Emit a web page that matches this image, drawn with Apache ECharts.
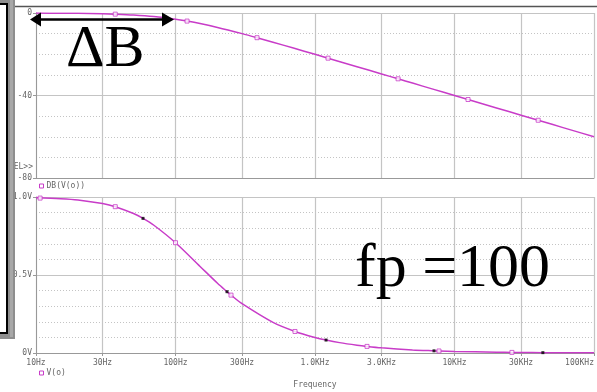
<!DOCTYPE html>
<html><head><meta charset="utf-8">
<script src="https://cdn.jsdelivr.net/npm/echarts@6/dist/echarts.min.js"></script>
<style>html,body{margin:0;padding:0;background:#fff}#c{width:597px;height:392px}</style>
</head><body><div id="c"></div>
<script>
const freqTicks = [10, 30, 100, 300, 1000, 3000, 10000, 30000, 100000];
const freqTickLabels = ['10Hz', '30Hz', '100Hz', '300Hz', '1.0KHz', '3.0KHz', '10KHz', '30KHz', '100KHz'];

// DB(V(o)) trace
const dbFreq   = [10, 15, 20, 30, 37, 50, 70, 100, 121, 150, 200, 300, 384, 500, 700, 1000, 1240, 2000, 3000, 3940, 5000, 7000, 10000, 12500, 20000, 30000, 39800, 50000, 70000, 100000];
const dbValues = [-0.04, -0.10, -0.17, -0.37, -0.56, -0.97, -1.73, -3.01, -3.92, -5.12, -6.99, -10.0, -11.97, -14.15, -16.99, -20.04, -21.9, -26.03, -29.55, -31.91, -33.98, -36.9, -40.0, -41.94, -46.02, -49.54, -52.0, -53.98, -56.9, -60.0];
const dbMarkFreq   = [37, 121, 384, 1240, 3940, 12500, 39800];
const dbMarkValues = [-0.56, -3.92, -11.97, -21.9, -31.91, -41.94, -52.0];

// V(o) trace
const vFreq   = [10, 15, 20, 30, 37, 50, 58.5, 70, 100, 150, 200, 234, 250, 300, 500, 719, 1000, 1200, 1500, 2000, 2360, 3000, 5000, 7130, 7740, 10000, 20000, 25800, 30000, 43000, 50000, 100000];
const vValues = [0.995, 0.989, 0.981, 0.958, 0.938, 0.894, 0.863, 0.819, 0.707, 0.555, 0.447, 0.393, 0.371, 0.316, 0.196, 0.138, 0.0995, 0.083, 0.0665, 0.050, 0.0423, 0.0333, 0.020, 0.014, 0.0129, 0.010, 0.005, 0.0039, 0.0033, 0.0023, 0.002, 0.001];
const vMarkFreq   = [10.7, 37, 100, 250, 719, 2360, 7740, 25800];
const vMarkValues = [0.993, 0.938, 0.707, 0.371, 0.138, 0.0423, 0.0129, 0.0039];
const vDotFreq   = [58.5, 234, 1200, 7130, 43000];
const vDotValues = [0.863, 0.393, 0.083, 0.014, 0.0023];

const C = '#c83cc8';
const GRID = '#c4c4c4';
const AX = '#999';
const TXT = '#666';
const MONO = 'DejaVu Sans Mono';

const zip = (a, b) => a.map((v, i) => [v, b[i]]);
const fmtFreq = v => {
  const i = freqTicks.findIndex(t => Math.abs(t - v) / t < 1e-6);
  return i >= 0 ? freqTickLabels[i] : '';
};

function xAxis(idx, showLabels) {
  return {
    gridIndex: idx, type: 'log', logBase: 10, min: 10, max: 100000,
    name: showLabels ? 'Frequency' : '', nameLocation: 'middle', nameGap: 28,
    nameTextStyle: { fontSize: 8, color: TXT, fontFamily: MONO },
    axisLine: { show: true, onZero: false, lineStyle: { color: AX } },
    axisTick: { show: showLabels, length: 3, customValues: freqTicks, lineStyle: { color: AX } },
    axisLabel: { show: showLabels, customValues: freqTicks, formatter: fmtFreq, fontSize: 8, color: TXT, fontFamily: MONO, margin: 6, alignMaxLabel: 'right' },
    splitLine: { show: true, lineStyle: { color: GRID, width: 1.2 } },
    minorTick: { show: false }, minorSplitLine: { show: false }
  };
}
function yAxis(idx, min, max, interval, fmt) {
  return {
    gridIndex: idx, type: 'value', min, max, interval,
    axisLine: { show: true, lineStyle: { color: AX } },
    axisTick: { show: true, length: 3, lineStyle: { color: AX } },
    axisLabel: { fontSize: 8, color: TXT, fontFamily: MONO, margin: 4, formatter: fmt },
    splitLine: { show: true, lineStyle: { color: GRID, width: 1.2 } },
    minorTick: { show: false, splitNumber: idx === 0 ? 4 : 5 },
    minorSplitLine: { show: true, lineStyle: { color: GRID, width: 1, type: [1, 2] } }
  };
}

const chart = echarts.init(document.getElementById('c'), null, { renderer: 'canvas' });
chart.setOption({
  animation: false,
  backgroundColor: '#fff',
  grid: [
    { left: 36, top: 13, width: 558, height: 165 },
    { left: 36, top: 197, width: 558, height: 156 }
  ],
  xAxis: [xAxis(0, false), xAxis(1, true)],
  yAxis: [
    yAxis(0, -80, 0, 40, v => String(v)),
    yAxis(1, 0, 1, 0.5, v => v === 0 ? '0V' : v.toFixed(1) + 'V')
  ],
  legend: [
    { left: 39, top: 182, padding: 0, itemWidth: 4, itemHeight: 4, selectedMode: false,
      textStyle: { fontSize: 8, color: TXT, fontFamily: MONO, padding: [0, 0, 0, -2] },
      data: [{ name: 'DB(V(o))', icon: 'rect', itemStyle: { color: '#fff', borderColor: C, borderWidth: 1 } }] },
    { left: 39, top: 369, padding: 0, itemWidth: 4, itemHeight: 4, selectedMode: false,
      textStyle: { fontSize: 8, color: TXT, fontFamily: MONO, padding: [0, 0, 0, -2] },
      data: [{ name: 'V(o)', icon: 'rect', itemStyle: { color: '#fff', borderColor: C, borderWidth: 1 } }] }
  ],
  series: [
    { name: 'DB(V(o))', type: 'line', xAxisIndex: 0, yAxisIndex: 0, data: zip(dbFreq, dbValues),
      smooth: 0.3, showSymbol: false, lineStyle: { color: C, width: 1.5 }, itemStyle: { color: C } },
    { name: 'DB(V(o)) pts', type: 'scatter', xAxisIndex: 0, yAxisIndex: 0, data: zip(dbMarkFreq, dbMarkValues),
      symbol: 'rect', symbolSize: 4, itemStyle: { color: '#fff', borderColor: C, borderWidth: 1 }, z: 5 },
    { name: 'V(o)', type: 'line', xAxisIndex: 1, yAxisIndex: 1, data: zip(vFreq, vValues),
      smooth: 0.3, showSymbol: false, lineStyle: { color: C, width: 1.5 }, itemStyle: { color: C } },
    { name: 'V(o) pts', type: 'scatter', xAxisIndex: 1, yAxisIndex: 1, data: zip(vMarkFreq, vMarkValues),
      symbol: 'rect', symbolSize: 4, itemStyle: { color: '#fff', borderColor: C, borderWidth: 1 }, z: 5 },
    { name: 'cursor', type: 'scatter', xAxisIndex: 1, yAxisIndex: 1, data: zip(vDotFreq, vDotValues),
      symbol: 'rect', symbolSize: 3, itemStyle: { color: '#000' }, z: 6 }
  ],
  graphic: [
    { type: 'text', z: 10, style: { x: 33, y: 167, text: 'SEL>>', textAlign: 'right', textVerticalAlign: 'middle', fontSize: 8, fontFamily: MONO, fill: TXT } },
    // top border
    { type: 'line', z: 50, shape: { x1: 10, y1: 6.5, x2: 597, y2: 6.5 }, style: { stroke: '#555', lineWidth: 1.5 } },
    // left window frame
    { type: 'rect', z: 100, shape: { x: 0, y: 0, width: 15, height: 339 }, style: { fill: '#8e8e8e' } },
    { type: 'rect', z: 101, shape: { x: 10, y: 0, width: 3, height: 337 }, style: { fill: '#a8a8a8' } },
    { type: 'rect', z: 102, shape: { x: -3, y: 4, width: 10, height: 329 }, style: { fill: '#fff', stroke: '#000', lineWidth: 2 } },
    // ΔB arrow
    { type: 'line', z: 60, shape: { x1: 38, y1: 19.5, x2: 165, y2: 19.5 }, style: { stroke: '#000', lineWidth: 2.5 } },
    { type: 'polygon', z: 60, shape: { points: [[30, 19.5], [41, 12.5], [41, 26.5]] }, style: { fill: '#000' } },
    { type: 'polygon', z: 60, shape: { points: [[174, 19.5], [162, 12.5], [162, 26.5]] }, style: { fill: '#000' } },
    { type: 'text', z: 60, style: { x: 66, y: 80, text: 'ΔB', textVerticalAlign: 'bottom', fontSize: 60, fontFamily: 'Liberation Serif', fill: '#000' } },
    { type: 'text', z: 60, style: { x: 355, y: 301, text: 'fp =100', textVerticalAlign: 'bottom', fontSize: 62, fontFamily: 'Liberation Serif', fill: '#000' } }
  ]
});
</script></body></html>
